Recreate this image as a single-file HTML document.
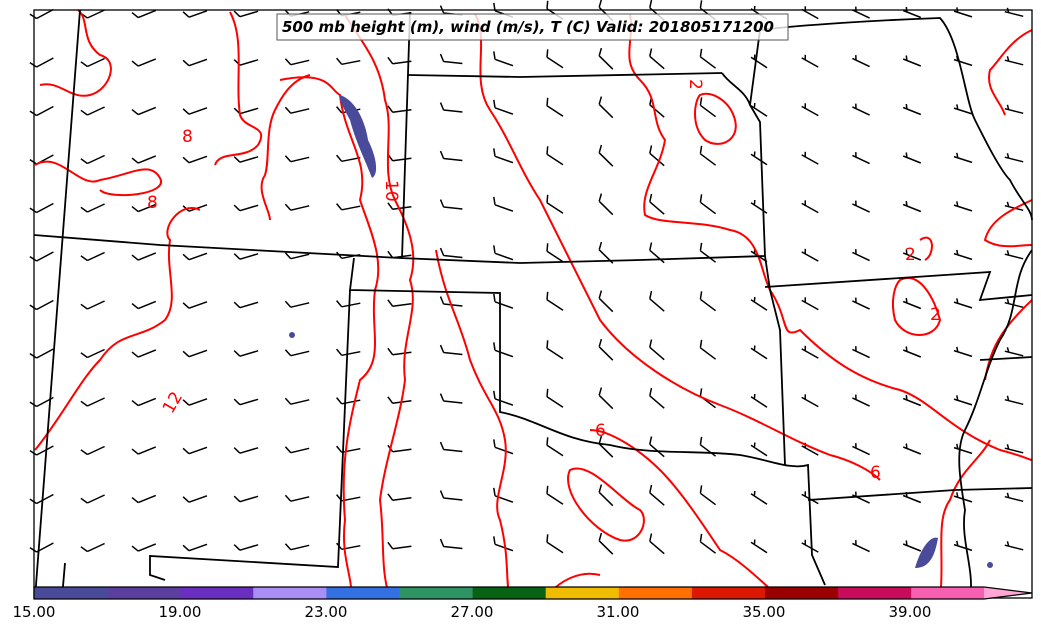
<!DOCTYPE html>
<html><head><meta charset="utf-8"><style>
body{margin:0;background:#fff;width:1041px;height:633px;overflow:hidden;font-family:"DejaVu Sans","Liberation Sans",sans-serif}
</style></head><body>
<svg id="s" width="1041" height="633" viewBox="0 0 1041 633" xmlns="http://www.w3.org/2000/svg">
<rect x="0" y="0" width="1041" height="633" fill="#fff"/>
<g id="barbs" stroke="#000" stroke-width="1.5" fill="none"></g>
<g stroke="red" stroke-width="2" fill="none">
<path d="M40,85 C60,80 70,100 90,95 C110,90 120,60 100,55 C80,40 90,20 78,10"/>
<path d="M35,165 C60,150 80,190 100,180 C130,175 150,160 160,178 C170,195 110,200 100,190"/>
<path d="M230,12 C245,40 235,80 240,115 C245,130 270,125 258,145 C245,160 220,150 215,165"/>
<path d="M310,75 C290,80 280,100 275,110 C265,130 270,160 265,175 C255,190 270,210 270,220"/>
<path d="M280,80 C330,70 330,90 340,95 C345,140 370,160 360,200 C370,230 385,260 375,290 C370,330 385,360 360,380 C350,420 340,460 345,520 C340,560 355,580 350,598"/>
<path d="M35,450 C60,420 80,380 100,360 C120,330 140,340 165,320 C180,300 165,270 170,240 C160,230 180,200 200,210"/>
<path d="M345,15 C360,40 380,60 385,100 C395,130 380,170 395,200 C405,220 420,250 410,280 C420,310 400,340 405,380 C400,420 385,460 380,500 C385,540 380,570 390,598"/>
<path d="M436,250 C445,300 460,320 470,360 C485,400 500,410 505,440 C510,470 490,500 500,520 C510,560 505,580 510,598"/>
<path d="M475,14 C490,40 470,80 490,110 C510,140 520,170 540,200 C560,240 580,280 600,320 C630,360 680,390 720,405 C760,420 790,440 830,455 C850,460 870,470 880,480"/>
<path d="M630,14 C635,40 620,60 640,80 C660,100 650,120 665,140 C660,170 640,190 645,215 C660,225 700,220 730,230 C760,235 760,270 770,290 C790,320 780,340 800,330 C830,360 860,380 900,390 C930,400 950,430 1000,450 C1020,455 1030,460 1032,460"/>
<path d="M590,430 C610,430 640,450 660,470 C680,490 700,520 720,550 C740,560 760,580 780,598"/>
<path d="M570,470 C590,460 620,500 640,510 C650,520 640,545 620,540 C590,530 560,490 570,470Z"/>
<path d="M545,598 C560,580 580,570 600,575"/>
<path d="M700,95 C710,90 730,100 735,120 C740,140 720,150 705,140 C690,125 695,100 700,95Z"/>
<path d="M920,240 C935,230 935,255 925,260"/>
<path d="M900,280 C920,270 935,300 940,320 C935,340 905,340 895,320 C890,300 895,285 900,280Z"/>
<path d="M1032,30 C1010,40 1000,60 990,70 C985,90 1000,100 1005,115"/>
<path d="M1032,200 C1010,210 990,220 985,240 C1000,250 1020,245 1032,245"/>
<path d="M1032,300 C1000,330 990,350 985,380"/>
<path d="M940,598 C945,560 935,520 950,500 C960,470 980,460 990,440"/>
</g>
<g fill="red" font-size="17" font-family="DejaVu Sans,sans-serif">
<text x="182" y="142">8</text><text x="147" y="208">8</text>
<text x="380" y="190" transform="rotate(90 388 188)">10</text>
<text x="160" y="410" transform="rotate(-60 170 402)">12</text>
<text x="595" y="436">6</text><text x="870" y="478">6</text>
<text x="685" y="88" transform="rotate(90 692 86)">2</text>
<text x="905" y="260">2</text><text x="930" y="320">2</text>
</g>
<g fill="#4a4a9a"><path d="M340,95 C355,100 365,120 368,140 C378,160 378,175 372,178 C365,160 355,140 350,120 C345,110 338,100 340,95Z"/>
<path d="M915,568 C920,550 930,535 938,538 C935,555 930,568 915,568Z"/><circle cx="292" cy="335" r="3"/><circle cx="990" cy="565" r="3"/></g>
<g stroke="#000" stroke-width="1.8" fill="none">
<path d="M80,10 L35,598"/>
<path d="M34,235 L160,245 L400,258 L520,263 L640,260 L765,256"/>
<path d="M410,12 L402,258"/>
<path d="M408,75 L520,77 L722,73"/>
<path d="M354,258 L350,290 L500,293 L500,412 C540,420 560,440 610,445 C650,455 700,450 740,455 C770,460 790,470 808,465 L812,555 L825,585"/>
<path d="M350,290 L338,567 L150,556 L150,575 L165,580"/>
<path d="M65,563 L62,598"/>
<path d="M722,73 C730,85 745,90 750,105 L760,122 L765,256 L770,290 L780,330 L785,465"/>
<path d="M765,287 L990,272 L980,300 L1032,295"/>
<path d="M750,105 L760,30 C800,25 880,20 940,18 C960,40 965,100 975,120 C985,140 1000,170 1010,180 C1020,200 1032,210 1032,220"/>
<path d="M808,500 L955,490 L1032,488"/>
<path d="M980,360 L1032,357"/>
<path d="M1032,250 C1010,280 1020,310 1000,340 C985,370 980,400 965,430 C955,450 960,480 965,510 C960,540 975,570 970,598"/>
</g>
<rect x="34" y="10" width="998" height="588" fill="none" stroke="#000" stroke-width="1.3"/>
<rect x="277" y="14" width="511" height="26" fill="#fff" fill-opacity="0.8" stroke="#555" stroke-width="1"/>
<text x="282" y="32" font-size="15" font-weight="bold" font-style="italic" font-family="DejaVu Sans,sans-serif">500 mb height (m), wind (m/s), T (C) Valid: 201805171200</text>
<g id="cb"></g>
<g font-size="15" font-family="DejaVu Sans,sans-serif" text-anchor="middle">
<text x="34" y="617">15.00</text><text x="180" y="617">19.00</text><text x="326" y="617">23.00</text><text x="472" y="617">27.00</text><text x="618" y="617">31.00</text><text x="764" y="617">35.00</text><text x="910" y="617">39.00</text>
</g>
</svg>
<script>
var NS="http://www.w3.org/2000/svg";
var cols=["#4a4a9a","#5a3f9f","#6a2fc0","#a98ef5","#3371e3","#2f9463","#086214","#f0bc00","#ff7000","#dc1800","#9a0000","#c80b5a","#f75fb0"];
var cb=document.getElementById("cb");
for(var i=0;i<13;i++){var r=document.createElementNS(NS,"rect");r.setAttribute("x",34+i*73.1);r.setAttribute("y",587);r.setAttribute("width",73.5);r.setAttribute("height",12);r.setAttribute("fill",cols[i]);cb.appendChild(r);}
var p=document.createElementNS(NS,"path");p.setAttribute("d","M984,587 L1032,593 L984,599Z");p.setAttribute("fill","#ffa6d6");cb.appendChild(p);
var o=document.createElementNS(NS,"path");o.setAttribute("d","M34,587 L984,587 L1032,593 L984,599 L34,599Z");o.setAttribute("fill","none");o.setAttribute("stroke","#000");o.setAttribute("stroke-width","1.2");cb.appendChild(o);
var g=document.getElementById("barbs"),d="";
function f(v){return v.toFixed(1);}
for(var y=14;y<590;y+=48.5){for(var x=45;x<1030;x+=51){
 var a;
 if(x<400) a=28-(x-45)/355*20; else if(x<600) a=8-(x-400)/200*53; else a=-45+(x-600)/400*30;
 var r=a*Math.PI/180, L=19;
 var cx=Math.cos(r), sy=-Math.sin(r);
 var x0=x-cx*L/2, y0=y-sy*L/2, x1=x+cx*L/2, y1=y+sy*L/2;
 var pr=r+Math.PI/2+0.5, bl=(x>740)?5:8, off=(x>740)?4:0;
 var bx=x0+cx*off, by=y0+sy*off;
 d+="M"+f(x0)+","+f(y0)+" L"+f(x1)+","+f(y1)+" M"+f(bx)+","+f(by)+" L"+f(bx+bl*Math.cos(pr))+","+f(by-bl*Math.sin(pr))+" ";
}}
var bp=document.createElementNS(NS,"path");bp.setAttribute("d",d);g.appendChild(bp);
</script>
</body></html>
